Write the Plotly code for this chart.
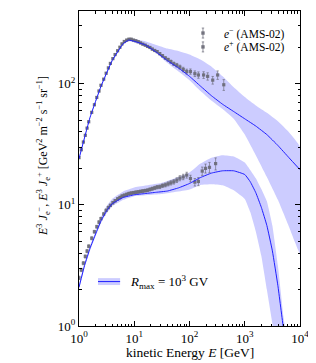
import plotly.graph_objects as go

# ---------------- data ----------------
# model curves (kinetic energy in GeV, E^3 J)
E_em_model = [1, 1.58, 2.51, 3.98, 6.31, 7.94, 10, 15.8, 25.1, 39.8, 63.1, 100, 158, 251, 398, 631,
              1000, 1585, 2512, 3981, 6310, 10000]
em_model = [24.0, 52.5, 95.5, 155, 214, 229, 224, 209, 182, 155, 135, 115, 95.5, 79.4, 67.6, 58.9,
            51.3, 44.7, 38.0, 30.9, 24.5, 19.5]
em_upper = [24.5, 53.7, 97.7, 158, 219, 234, 234, 224, 209, 195, 186, 174, 158, 138, 115, 93.3,
            77.6, 66.1, 57.5, 49.0, 39.8, 30.2]
em_lower = [23.4, 51.3, 93.3, 151, 209, 224, 219, 204, 178, 148, 126, 107, 87.1, 72.4, 61.7, 51.3,
            38.0, 25.7, 17.0, 11.0, 6.61, 3.98]

E_ep_model = [1, 1.26, 1.58, 2.0, 2.51, 3.16, 3.98, 6.31, 10, 15.8, 25.1, 39.8, 63.1, 100, 158, 251,
              398, 631, 1000, 1259, 1585, 1995, 2512, 3162, 3981, 5012, 6310]
ep_model = [2.09, 3.16, 4.37, 5.75, 7.41, 8.91, 10.2, 11.5, 12.1, 12.4, 12.7, 13.0, 13.8, 15.0, 16.8,
            18.3, 19.1, 19.1, 17.8, 15.5, 12.6, 9.55, 6.76, 4.17, 2.15, 0.95, 0.42]
E_ep_upper = [1, 1.26, 1.58, 2.0, 2.51, 3.16, 3.98, 6.31, 10, 31.6, 100, 158, 251, 398, 631, 1000,
              1585, 1995, 2512, 3162, 3981, 5012, 6310]
ep_upper = [2.19, 3.31, 4.57, 6.03, 7.94, 9.77, 11.2, 12.9, 13.9, 15.2, 18.5, 21.9, 24.5, 25.7, 25.1,
            22.4, 16.6, 13.5, 10.7, 6.76, 3.16, 1.20, 0.50]
E_ep_lower = [1, 1.26, 1.58, 2.0, 2.51, 3.16, 3.98, 6.31, 10, 31.6, 100, 158, 251, 398, 631, 1000,
              1259, 1585, 1995, 2512, 3162, 3981]
ep_lower = [2.0, 3.02, 4.17, 5.50, 7.08, 8.51, 9.7, 11.0, 11.8, 12.3, 13.4, 14.6, 14.8, 14.5, 13.2,
            11.2, 8.71, 6.03, 3.80, 2.0, 1.05, 0.5]

# AMS-02 electron data
E_em_data = [1.0, 1.1, 1.2, 1.3, 1.4, 1.5, 1.7, 1.9, 2.1, 2.3, 2.5, 2.8, 3.1, 3.4, 3.7, 4.1, 4.5, 5.0,
             5.5, 6.0, 6.6, 7.3, 8.0, 8.8, 9.7, 10.7, 11.8, 13.0, 14.3, 15.8, 17.4, 19.2, 21.2, 23.5,
             26.0, 29.0, 32.5, 36.5, 41.0, 46.0, 52, 59, 67, 77, 89, 104, 125, 145, 180, 213, 263,
             323, 417]
em_data = [24.5, 28.5, 33, 37.5, 43, 48.5, 58, 67, 77, 87, 97, 109, 122, 135, 147, 161, 174, 187, 200,
           213, 223, 229, 233, 233, 229, 226, 222, 217, 212, 208, 203, 199, 193, 188, 184, 177, 170,
           163, 158, 152, 146, 142, 137, 131, 126, 126, 121, 118, 118, 115, 107, 118, 98]
em_err = [0.4, 0.4, 0.5, 0.6, 0.6, 0.7, 0.9, 1.0, 1.2, 1.3, 1.5, 1.6, 1.8, 2.0, 2.2, 2.4, 2.6, 2.8,
          3.0, 3.2, 3.3, 3.4, 3.5, 3.5, 3.4, 3.4, 3.3, 3.3, 3.2, 3.3, 3.3, 3.4, 3.5, 3.6, 3.8, 3.9,
          4.0, 4.1, 4.3, 4.5, 4.7, 5.0, 5.2, 5.6, 5.8, 6.3, 6.5, 7.1, 7.5, 8.0, 7.8, 9.5, 10]

# AMS-02 positron data
E_ep_data = [1.0, 1.1, 1.2, 1.3, 1.4, 1.5, 1.7, 1.9, 2.1, 2.3, 2.5, 2.8, 3.1, 3.4, 3.7, 4.1, 4.5, 5.0,
             5.5, 6.0, 6.6, 7.3, 8.0, 8.8, 9.7, 10.7, 11.8, 13.0, 14.3, 15.8, 17.4, 19.2, 21.2, 23.5,
             26.0, 29.0, 32.5, 36.5, 41.0, 46.0, 52, 59, 67, 77, 89, 104, 125, 145, 170, 195, 230, 297]
ep_data = [2.5, 2.9, 3.3, 3.75, 4.15, 4.55, 5.3, 6.0, 6.6, 7.2, 7.7, 8.4, 9.0, 9.5, 9.9, 10.4, 10.8,
           11.2, 11.5, 11.8, 12.0, 12.2, 12.4, 12.5, 12.6, 12.7, 12.8, 12.9, 13.0, 13.1, 13.2, 13.4,
           13.6, 13.8, 14.0, 14.1, 14.4, 14.6, 14.9, 15.2, 15.5, 16.0, 16.6, 17.0, 17.6, 16.5, 15.4,
           15.6, 19.0, 20.0, 20.4, 21.9]
ep_err = [0.08, 0.09, 0.1, 0.11, 0.12, 0.13, 0.15, 0.16, 0.18, 0.19, 0.2, 0.22, 0.23, 0.24, 0.25,
          0.26, 0.27, 0.28, 0.29, 0.3, 0.3, 0.31, 0.31, 0.32, 0.32, 0.33, 0.33, 0.34, 0.35, 0.36,
          0.37, 0.39, 0.41, 0.43, 0.45, 0.48, 0.5, 0.54, 0.58, 0.62, 0.66, 0.72, 0.8, 0.88, 0.98,
          1.05, 1.1, 1.2, 1.5, 1.7, 2.0, 2.5]

x_tick_vals = [1, 10, 100, 1000, 10000]
x_tick_text = ["10<sup>0</sup>", "10<sup>1</sup>", "10<sup>2</sup>", "10<sup>3</sup>", "10<sup>4</sup>"]
y_tick_vals = [1, 10, 100]
y_tick_text = ["10<sup>0</sup>", "10<sup>1</sup>", "10<sup>2</sup>"]

legend_data_labels = ["<i>e</i><sup>−</sup> (AMS-02)", "<i>e</i><sup>+</sup> (AMS-02)"]
legend_model_label = "<i>R</i><sub>max</sub> = 10<sup>3</sup> GV"

# ---------------- styles ----------------
FONT = "Liberation Serif"
BAND = "#ccccff"
LINE = "#1f1fff"
MARK = "rgba(105,105,118,0.9)"
SMOOTH = 0.35

fig = go.Figure()

# uncertainty bands
fig.add_trace(go.Scatter(x=E_em_model + E_em_model[::-1], y=em_upper + em_lower[::-1],
                         fill="toself", fillcolor=BAND,
                         line=dict(width=0, shape="spline", smoothing=SMOOTH),
                         mode="lines", hoverinfo="skip", showlegend=False))
fig.add_trace(go.Scatter(x=E_ep_upper + E_ep_lower[::-1], y=ep_upper + ep_lower[::-1],
                         fill="toself", fillcolor=BAND,
                         line=dict(width=0, shape="spline", smoothing=SMOOTH),
                         mode="lines", hoverinfo="skip", showlegend=False))

# data
for xs, ys, es in [(E_em_data, em_data, em_err), (E_ep_data, ep_data, ep_err)]:
    fig.add_trace(go.Scatter(x=xs, y=ys, mode="markers",
                             marker=dict(symbol="square", size=3.2, color=MARK),
                             error_y=dict(type="data", array=es, color=MARK, thickness=0.7, width=1.2),
                             showlegend=False))

# model lines
fig.add_trace(go.Scatter(x=E_em_model, y=em_model, mode="lines",
                         line=dict(color=LINE, width=1, shape="spline", smoothing=SMOOTH),
                         showlegend=False))
fig.add_trace(go.Scatter(x=E_ep_model, y=ep_model, mode="lines",
                         line=dict(color=LINE, width=1, shape="spline", smoothing=SMOOTH),
                         showlegend=False))

x_minor = [m * 10 ** d for d in range(4) for m in range(2, 10)]
y_minor = [m * 10 ** d for d in range(3) for m in range(2, 10)]

axis_common = dict(type="log", showline=True, linecolor="black", linewidth=1, mirror="allticks",
                   ticks="inside", ticklen=5, tickwidth=0.8, tickcolor="black", showgrid=False,
                   zeroline=False, ticklabeloverflow="allow",
                   tickfont=dict(family=FONT, size=13, color="black"))
fig.update_xaxes(range=[0, 4], tickvals=x_tick_vals, ticktext=x_tick_text,
                 minor=dict(ticks="inside", ticklen=2.5, tickwidth=0.7, tickcolor="black",
                            tickvals=x_minor, showgrid=False),
                 **axis_common)
fig.update_yaxes(range=[0, 2.6], tickvals=y_tick_vals, ticktext=y_tick_text,
                 minor=dict(ticks="inside", ticklen=2.5, tickwidth=0.7, tickcolor="black",
                            tickvals=y_minor, showgrid=False),
                 **axis_common)

annotations = [
    dict(text="<i>E</i><sup>3</sup> <i>J</i><sub>e</sub><sup>−</sup>, <i>E</i><sup>3</sup> "
              "<i>J</i><sub>e</sub><sup>+</sup> "
              "[GeV<sup>2</sup> m<sup>−2</sup> s<sup>−1</sup> sr<sup>−1</sup>]",
         xref="paper", yref="paper", x=-0.158, y=0.54, textangle=-90, showarrow=False,
         xanchor="center", yanchor="middle", font=dict(family=FONT, size=12, color="black")),
    dict(text="kinetic Energy <i>E</i> [GeV]", xref="paper", yref="paper", x=0.5, y=-0.083,
         showarrow=False, xanchor="center", yanchor="middle",
         font=dict(family=FONT, size=13.5, color="black")),
]
shapes = []
leg_rows = [0.930, 0.886]
for lbl, yy in zip(legend_data_labels, leg_rows):
    annotations.append(dict(text=lbl, xref="paper", yref="paper", x=0.648, y=yy, showarrow=False,
                            xanchor="left", yanchor="middle",
                            font=dict(family=FONT, size=11.5, color="black")))
    shapes.append(dict(type="line", xref="paper", yref="paper", xsizemode="pixel", ysizemode="pixel",
                       xanchor=0.561, yanchor=yy, x0=0, x1=0, y0=-5, y1=5,
                       line=dict(color=MARK, width=0.8)))
    for cap in (-5, 5):
        shapes.append(dict(type="line", xref="paper", yref="paper", xsizemode="pixel", ysizemode="pixel",
                           xanchor=0.561, yanchor=yy, x0=-1.2, x1=1.2, y0=cap, y1=cap,
                           line=dict(color=MARK, width=0.8)))
    shapes.append(dict(type="rect", xref="paper", yref="paper", xsizemode="pixel", ysizemode="pixel",
                       xanchor=0.561, yanchor=yy, x0=-1.7, x1=1.7, y0=-1.7, y1=1.7,
                       fillcolor=MARK, line=dict(width=0)))

# model legend (band + line)
shapes.append(dict(type="rect", xref="paper", yref="paper", x0=0.086, x1=0.186, y0=0.130, y1=0.152,
                   fillcolor=BAND, line=dict(width=0)))
shapes.append(dict(type="line", xref="paper", yref="paper", x0=0.086, x1=0.186, y0=0.141, y1=0.141,
                   line=dict(color=LINE, width=1)))
annotations.append(dict(text=legend_model_label, xref="paper", yref="paper", x=0.222, y=0.141,
                        showarrow=False, xanchor="left", yanchor="middle",
                        font=dict(family=FONT, size=13, color="black")))

# the page body adds an 8 px offset, so margins are shifted to keep the plot area in place
fig.update_layout(width=316, height=363, margin=dict(l=71, r=24, t=3, b=45),
                  paper_bgcolor="white", plot_bgcolor="white", showlegend=False,
                  annotations=annotations, shapes=shapes,
                  font=dict(family=FONT, color="black"))

fig.write_html("out.html")
